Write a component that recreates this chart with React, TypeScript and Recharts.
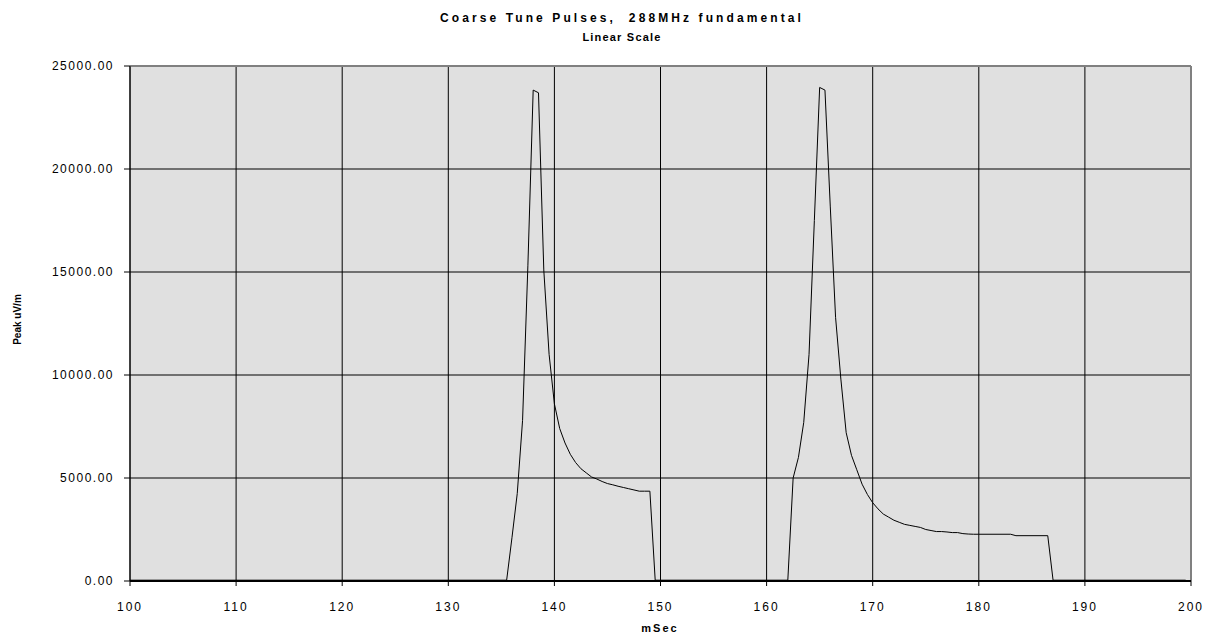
import { LineChart, Line, XAxis, YAxis, CartesianGrid, ReferenceLine } from 'recharts'

const timeMs = [
  100, 135.5, 136, 136.5, 137, 137.5, 138, 138.5, 139, 139.5,
  140, 140.5, 141, 141.5, 142, 142.5, 143, 143.5, 144, 144.5,
  145, 145.5, 146, 146.5, 147, 147.5, 148, 148.5, 149, 149.5,
  162, 162.5, 163, 163.5, 164, 164.5, 165, 165.5, 166, 166.5,
  167, 167.5, 168, 168.5, 169, 169.5, 170, 170.5, 171, 171.5,
  172, 172.5, 173, 173.5, 174, 174.5, 175, 175.5, 176, 176.5,
  177, 177.5, 178, 178.5, 179, 179.5, 180, 183, 183.5, 186.5,
  187, 199.5,
]

const peakUvm = [
  40, 40, 2100, 4250, 7800, 15300, 23830, 23700, 15100, 11000,
  8600, 7400, 6700, 6150, 5750, 5450, 5250, 5050, 4950, 4830,
  4730, 4670, 4600, 4540, 4480, 4420, 4360, 4360, 4360, 40,
  40, 5000, 6000, 7700, 11000, 17500, 23960, 23830, 18200, 12800,
  9800, 7200, 6100, 5400, 4700, 4200, 3800, 3500, 3250, 3100,
  2950, 2850, 2750, 2700, 2650, 2600, 2500, 2450, 2400, 2400,
  2380, 2350, 2350, 2300, 2280, 2270, 2270, 2270, 2200, 2200,
  40, 40,
]

const xTicks = [100, 110, 120, 130, 140, 150, 160, 170, 180, 190, 200]
const yTicks = [0, 5000, 10000, 15000, 20000, 25000]

const data = timeMs.map((t, i) => ({ t, v: peakUvm[i] }))

const font = 'Arial, "Liberation Sans", sans-serif'

export default function App() {
  return (
    <div style={{ position: 'relative', width: 1207, height: 635, fontFamily: font }}>
      <div
        style={{
          position: 'absolute', left: 0, width: 1228, top: 3, textAlign: 'center',
          fontSize: 12, fontWeight: 'bold', letterSpacing: 3.1, whiteSpace: 'pre',
        }}
      >
        {'Coarse Tune Pulses,  288MHz fundamental'}
      </div>
      <div
        style={{
          position: 'absolute', left: 0, width: 1228, top: 23, textAlign: 'center',
          fontSize: 11, fontWeight: 'bold', letterSpacing: 1.2,
        }}
      >
        Linear Scale
      </div>
      <div
        style={{
          position: 'absolute', left: 9 - 40, top: 306, width: 80, textAlign: 'center',
          fontSize: 10, fontWeight: 'bold', transform: 'rotate(-90deg)',
        }}
      >
        Peak uV/m
      </div>
      <div
        style={{
          position: 'absolute', left: 0, width: 1304, top: 614, textAlign: 'center',
          fontSize: 11, fontWeight: 'bold', letterSpacing: 2,
        }}
      >
        mSec
      </div>

      <LineChart
        width={1207}
        height={635}
        data={data}
        margin={{ top: 58, right: 24, left: 0, bottom: 0 }}
      >
        <CartesianGrid stroke="#000" strokeWidth={1} fill="#E0E0E0" fillOpacity={1} />
        <XAxis
          dataKey="t"
          type="number"
          domain={[100, 200]}
          ticks={xTicks}
          interval={0}
          height={62}
          stroke="#000"
          axisLine={{ stroke: '#000', strokeWidth: 2 }}
          tickLine={{ stroke: '#000' }}
          tickSize={5}
          tickMargin={16}
          tick={{ fill: '#000', fontSize: 12, fontFamily: font, letterSpacing: 2 }}
        />
        <YAxis
          type="number"
          domain={[0, 25000]}
          ticks={yTicks}
          interval={0}
          width={122}
          stroke="#000"
          axisLine={{ stroke: '#000', strokeWidth: 1 }}
          tickLine={{ stroke: '#000' }}
          tickSize={6}
          tickMargin={10}
          tickFormatter={(v: number) => v.toFixed(2)}
          tick={{ fill: '#000', fontSize: 12, fontFamily: font, letterSpacing: 1.5 }}
        />
        <ReferenceLine y={25000} stroke="#808080" strokeWidth={2} />
        <ReferenceLine x={200} stroke="#808080" strokeWidth={2} />
        <Line
          type="linear"
          dataKey="v"
          stroke="#000"
          strokeWidth={1}
          dot={false}
          isAnimationActive={false}
        />
      </LineChart>
    </div>
  )
}
